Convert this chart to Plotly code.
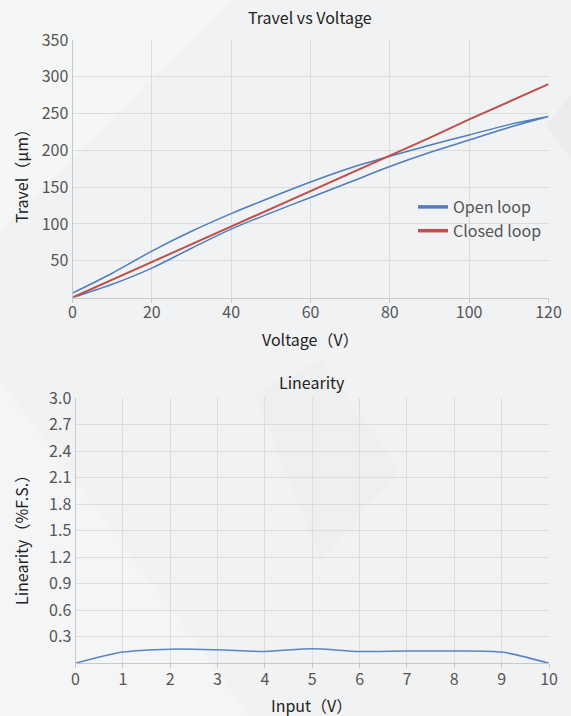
import plotly.graph_objects as go

# ---- data: Travel vs Voltage ----
voltage = [0, 10, 20, 30, 40, 50, 60, 70, 80, 90, 100, 110, 120]
open_up = [0, 18, 40, 67, 93, 115, 136, 157, 178, 197, 214, 231, 246]    # ascending branch
open_down = [6, 33, 63, 90, 114, 136, 157, 176, 192, 207, 221, 235, 246]  # descending branch
closed_loop = [0, 24, 48, 72, 97, 121, 145, 169, 193, 217, 242, 266, 290]

# ---- data: Linearity ----
lin_input = [0, 1, 2, 3, 4, 5, 6, 7, 8, 9, 10]
linearity = [0.0, 0.127, 0.16, 0.153, 0.134, 0.165, 0.134, 0.138, 0.14, 0.127, 0.0]

FONT = "Noto Sans CJK SC"
BLUE = "#4f7dbf"
RED = "#c0504d"
W, H = 571, 716

open_x = voltage + voltage[::-1]
open_y = open_up + open_down[::-1]

fig = go.Figure()
fig.add_trace(go.Scatter(x=open_x, y=open_y, mode="lines",
                         line=dict(color=BLUE, width=1.5, shape="spline", smoothing=0.9),
                         showlegend=False, xaxis="x", yaxis="y"))
fig.add_trace(go.Scatter(x=voltage, y=closed_loop, mode="lines", line=dict(color=RED, width=2),
                         showlegend=False, xaxis="x", yaxis="y"))
# legend entries (thicker symbols)
fig.add_trace(go.Scatter(x=[None], y=[None], mode="lines", name="Open loop", line=dict(color=BLUE, width=3.5),
                         xaxis="x", yaxis="y"))
fig.add_trace(go.Scatter(x=[None], y=[None], mode="lines", name="Closed loop", line=dict(color=RED, width=3.5),
                         xaxis="x", yaxis="y"))

fig.add_trace(go.Scatter(x=lin_input, y=linearity, mode="lines",
                         line=dict(color="#5b84c6", width=1.5, shape="spline", smoothing=0.8),
                         showlegend=False, xaxis="x2", yaxis="y2"))


def px(x):
    return x / W


def py(y):
    return 1 - y / H


grid = "#dcdcdc"
axcommon = dict(showgrid=True, gridcolor=grid, gridwidth=1, zeroline=False, showline=True, linecolor="#c8c8c8",
                linewidth=1, automargin=False, tickfont=dict(family=FONT, size=16, color="#555555"))

title_font = dict(family=FONT, size=16, color="#222222")
axis_title_font = dict(family=FONT, size=16, color="#222222")


def label(text, x, y, font, angle=0):
    return dict(text=text, x=px(x), y=py(y), xref="paper", yref="paper", showarrow=False,
                xanchor="center", yanchor="middle", textangle=angle, font=font)


fig.update_layout(
    width=W, height=H,
    margin=dict(l=0, r=0, t=0, b=0, autoexpand=False),
    paper_bgcolor="#f1f2f3",
    plot_bgcolor="rgba(0,0,0,0)",
    font=dict(family=FONT, color="#333333"),
    xaxis=dict(domain=[px(72.5), px(548.5)], anchor="y", range=[0, 120], dtick=20,
               ticks="outside", ticklen=4, tickcolor="#c8c8c8", ticklabelstandoff=-4, **axcommon),
    yaxis=dict(domain=[py(297.5), py(40)], anchor="x", range=[0, 350],
               tickvals=[50, 100, 150, 200, 250, 300, 350], ticks="", **axcommon),
    xaxis2=dict(domain=[px(75.5), px(549)], anchor="y2", range=[0, 10], dtick=1,
                ticks="outside", ticklen=4, tickcolor="#c8c8c8", ticklabelstandoff=-3, **axcommon),
    yaxis2=dict(domain=[py(663.3), py(398.3)], anchor="x2", range=[0, 3.0],
                tickvals=[0.3, 0.6, 0.9, 1.2, 1.5, 1.8, 2.1, 2.4, 2.7, 3.0],
                ticktext=["0.3", "0.6", "0.9", "1.2", "1.5", "1.8", "2.1", "2.4", "2.7", "3.0"],
                ticks="", **axcommon),
    legend=dict(x=px(413), y=py(190), xanchor="left", yanchor="top", bgcolor="rgba(0,0,0,0)",
                font=dict(family=FONT, size=16, color="#555555"), tracegroupgap=0),
    shapes=[
        dict(type="path", xref="paper", yref="paper", layer="below", line=dict(width=0),
             fillcolor="rgba(255,255,255,0.3)",
             path=f"M {px(0)},{py(0)} L {px(230)},{py(0)} L {px(0)},{py(230)} Z"),
        dict(type="path", xref="paper", yref="paper", layer="below", line=dict(width=0),
             fillcolor="rgba(255,255,255,0.25)",
             path=f"M {px(0)},{py(380)} L {px(0)},{py(716)} L {px(250)},{py(716)} Z"),
        dict(type="path", xref="paper", yref="paper", layer="below", line=dict(width=0),
             fillcolor="rgba(225,227,229,0.35)",
             path=f"M {px(546)},{py(125)} L {px(571)},{py(95)} L {px(571)},{py(160)} Z"),
        dict(type="path", xref="paper", yref="paper", layer="below", line=dict(width=0),
             fillcolor="rgba(232,234,236,0.35)",
             path=f"M {px(255)},{py(393)} L {px(320)},{py(360)} L {px(400)},{py(470)} L {px(320)},{py(560)} Z"),
    ],
    annotations=[
        label("Travel vs Voltage", 310, 17, title_font),
        label("Voltage（V）", 310, 339, axis_title_font),
        label("Travel（μm）", 21, 172, axis_title_font, -90),
        label("Linearity", 312, 382, title_font),
        label("Input（V）", 312, 705, axis_title_font),
        label("Linearity（%F.S.）", 21, 536, axis_title_font, -90),
    ],
)

fig.write_html("out.html", config={"displayModeBar": False},
               post_script="document.body.style.margin='0';document.body.style.overflow='hidden';")
